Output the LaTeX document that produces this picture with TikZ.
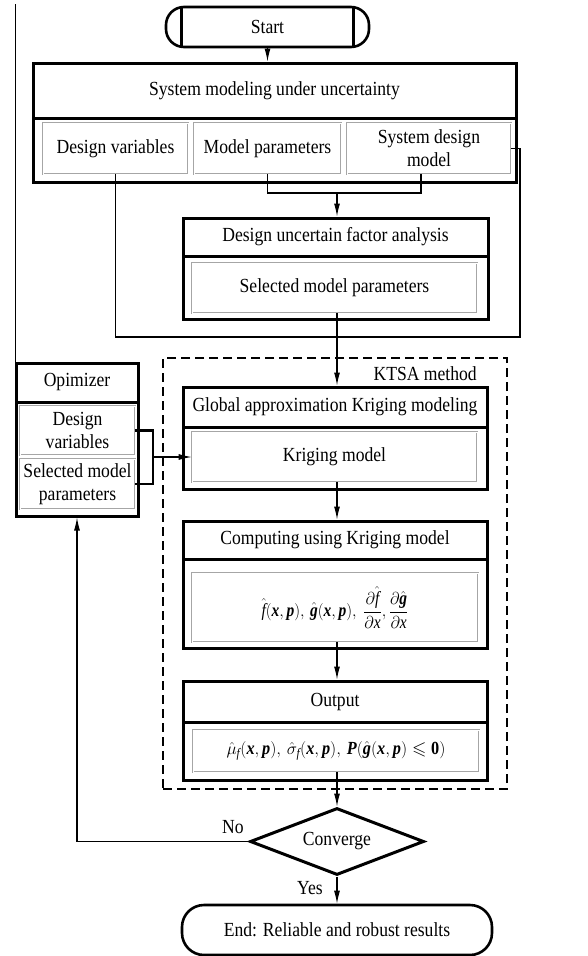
\documentclass[tikz,border=0pt]{standalone}
\usepackage{amsmath,amssymb}
\usepackage{fontspec}
\setmainfont{Liberation Serif}[FakeStretch=0.88]
\usetikzlibrary{shapes.geometric,arrows.meta,calc}
\newcommand{\myx}{\textbf{\textit{x}}}
\newcommand{\myp}{\textbf{\textit{p}}}
\newcommand{\myg}{\textbf{\textit{g}}}
\newcommand{\myP}{\textbf{\textit{P}}}
\newcommand{\myf}{\textit{f}}
\begin{document}
\begin{tikzpicture}[x=1pt,y=-1pt,
  every node/.style={font=\fontsize{20}{23}\selectfont, inner sep=0pt, align=center},
  bigbox/.style={draw, line width=3pt},
  innerbox/.style={draw=gray!70, double=white, double distance=1pt, line width=0.6pt},
  conn/.style={line width=1.1pt},
  arr/.style={line width=1.1pt, -{Latex[length=13pt,width=6pt]}},
  bracket/.style={line width=2.4pt},
  term/.style={draw, line width=2.6pt},
  formula/.style={font=\fontsize{18.5}{21}\selectfont}
]
\useasboundingbox (0,0) rectangle (587,956);
\fill[white] (0,0) rectangle (587,956);

% edge artefact line
\coordinate (artA) at (15,4);
\coordinate (artB) at (15,363);
\draw[line width=0.8pt] (artA) -- (artB);

% Start
\node[term, rounded corners=18pt, minimum width=203pt, minimum height=40pt] (start) at (267.5,27) {Start};
\draw[line width=2.6pt] ([xshift=17pt]start.north west) -- ([xshift=17pt]start.south west);
\draw[line width=2.6pt] ([xshift=-17pt]start.north east) -- ([xshift=-17pt]start.south east);

% System modeling
\node[bigbox, minimum width=483pt, minimum height=55pt] (syshead) at (274.5,90.5) {System modeling under uncertainty};
\node[bigbox, minimum width=483pt, minimum height=64pt] (sysbody) at (274.5,150) {};
\node[innerbox, minimum width=145pt, minimum height=51pt] (dv) at (115.5,148.5) {Design variables};
\node[innerbox, minimum width=147pt, minimum height=51pt] (mp) at (267.5,148.5) {Model parameters};
\node[innerbox, minimum width=164pt, minimum height=51pt] (sdm) at (429,148.5) {System design\\model};

% Design uncertain factor analysis
\node[bigbox, minimum width=305pt, minimum height=38pt] (dufhead) at (335.5,237) {Design uncertain factor analysis};
\node[bigbox, minimum width=305pt, minimum height=63pt] (dufbody) at (335.5,287.5) {};
\node[innerbox, minimum width=285pt, minimum height=50pt] (smp) at (334.5,288) {Selected model parameters};

% KTSA dashed frame
\node[draw, line width=1.6pt, dash pattern=on 9pt off 5pt, minimum width=344pt, minimum height=431pt] (ktsa) at (335,573.5) {};
\node[anchor=east] (ktsalabel) at (477,374) {KTSA method};

% Global approximation
\node[bigbox, minimum width=304pt, minimum height=40pt] (gahead) at (335,407) {Global approximation Kriging modeling};
\node[bigbox, minimum width=304pt, minimum height=62pt] (gabody) at (335,458) {};
\node[innerbox, minimum width=285pt, minimum height=50pt] (km) at (334.5,457) {Kriging model};

% Computing
\node[bigbox, minimum width=304pt, minimum height=38pt] (cuhead) at (335,540) {Computing using Kriging model};
\node[bigbox, minimum width=304pt, minimum height=89pt] (cubody) at (335,603.5) {};
\node[innerbox, formula, minimum width=286pt, minimum height=69pt] (cu) at (335,607.5)
  {\scalebox{0.95}[1]{$\hat{\myf}(\myx,\myp),\,\hat{\myg}(\myx,\myp),\ \dfrac{\partial\hat{\myf}}{\partial \textit{x}},\dfrac{\partial\hat{\myg}}{\partial \textit{x}}$}};

% Output
\node[bigbox, minimum width=304pt, minimum height=41pt] (outhead) at (335,701.5) {Output};
\node[bigbox, minimum width=304pt, minimum height=58pt] (outbody) at (335,751) {};
\node[innerbox, formula, minimum width=286pt, minimum height=42pt] (out) at (336,751)
  {$\hat\mu_{\myf}(\myx,\myp),\,\hat\sigma_{\myf}(\myx,\myp),\,\myP(\hat{\myg}(\myx,\myp)\leqslant\textbf{0})$};

% Converge
\node[draw, line width=3pt, shape=diamond, aspect=2.6, minimum width=174pt, minimum height=67pt] (conv) at (337,841.5) {Converge};
\node (nolabel) at (233,827) {No};
\node (yeslabel) at (310,888) {Yes};

% End
\node[term, rounded corners=22pt, minimum width=310pt, minimum height=50pt] (end) at (337,930) {End: Reliable and robust results};

% Optimizer
\node[bigbox, minimum width=122pt, minimum height=39pt] (ophead) at (77,382.5) {Opimizer};
\node[bigbox, minimum width=122pt, minimum height=114pt] (opbody) at (77,459) {};
\node[innerbox, minimum width=115pt, minimum height=49pt] (opdv) at (77.5,430.5) {Design\\variables};
\node[innerbox, minimum width=115pt, minimum height=50pt] (opsmp) at (77.5,484) {Selected model\\parameters};

% connectors
\coordinate (j1) at (337,193);
\coordinate (rc) at (520,337);
\coordinate (br) at (153,457);

\draw[arr] (start) -- (syshead.north -| start.south);
\draw[conn] (mp.south) |- ([xshift=-8pt]sdm.south |- j1) -- ([xshift=-8pt]sdm.south);
\draw[arr] (j1) -- (dufhead.north -| j1);
\draw[conn] (dv.south) |- (rc) |- (sdm.east);
\draw[arr] (smp.south -| j1) -- (gahead.north -| j1);
\draw[bracket] (opdv.east) -| (br) |- (opsmp.east);
\draw[arr] (br) -- (km.west |- br);
\draw[arr] (km.south -| j1) -- (cuhead.north -| j1);
\draw[arr] (cu.south -| j1) -- (outhead.north -| j1);
\draw[arr] (out.south -| j1) -- (conv.north);
\draw[arr] (conv.south) -- (end.north);
\draw[arr] (conv.west) -| (opbody.south);
\end{tikzpicture}
\end{document}
